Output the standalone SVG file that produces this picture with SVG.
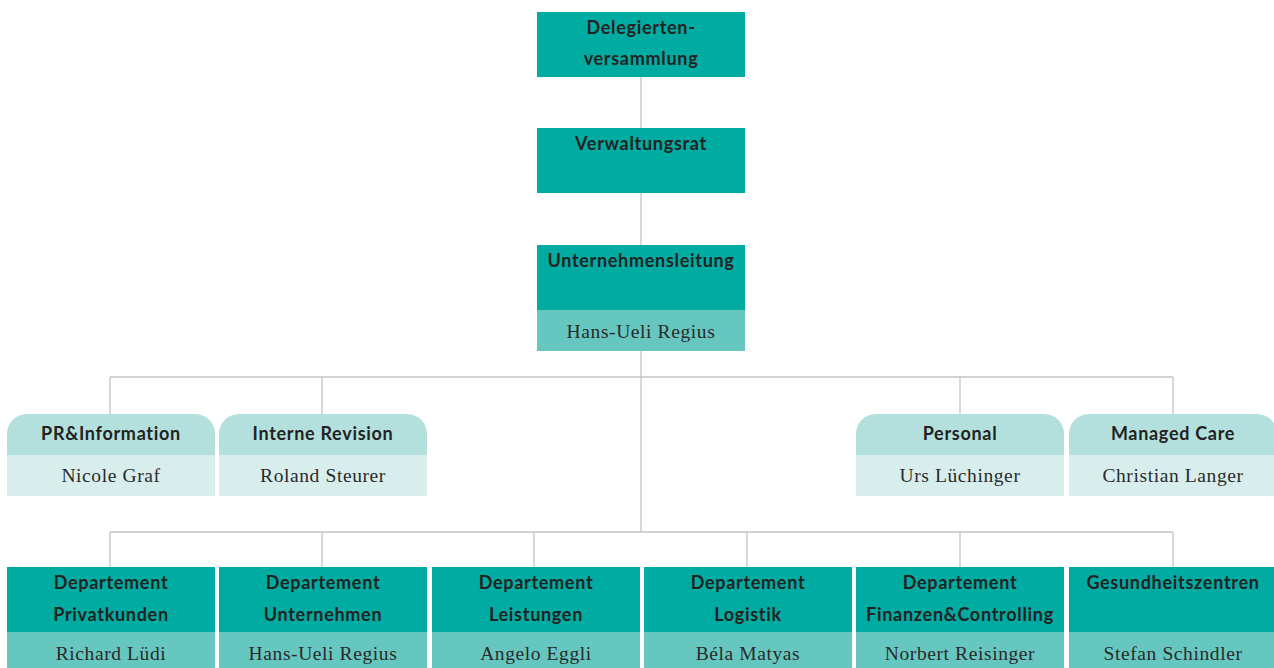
<svg xmlns="http://www.w3.org/2000/svg" width="1274" height="668" viewBox="0 0 1274 668">
<style>
.dk{fill:#00aba1}
.md{fill:#66c7c0}
.lh{fill:#b3e0dd}
.lb{fill:#d8eeec}
.h{font-family:"Lato","Liberation Sans",sans-serif;font-weight:bold;font-size:18px;fill:#222;text-anchor:middle;letter-spacing:0.7px}
.n{font-family:"Liberation Serif",serif;font-size:19.5px;fill:#2a2a2a;text-anchor:middle;letter-spacing:0.6px}
.c{stroke:#c4c4c4;stroke-width:1.3;fill:none}
</style>
<rect width="1274" height="668" fill="#fff"/>
<g id="connectors">
<path class="c" d="M641 77V128M641 193V245M641 351V532M110 377H1173M110 377V414M322 377V414M960 377V414M1173 377V414M110 532H1173M110 532V567M322 532V567M534 532V567M747 532V567M960 532V567M1173 532V567"/>
</g>
<g id="delegiertenversammlung">
<rect class="dk" x="537" y="12" width="208" height="65"/>
<text class="h" x="641" y="34">Delegierten-</text>
<text class="h" x="641" y="65">versammlung</text>
</g>
<g id="verwaltungsrat">
<rect class="dk" x="537" y="128" width="208" height="65"/>
<text class="h" x="641" y="150">Verwaltungsrat</text>
</g>
<g id="unternehmensleitung">
<rect class="dk" x="537" y="245" width="208" height="65"/>
<rect class="md" x="537" y="310" width="208" height="41"/>
<text class="h" x="641" y="267">Unternehmensleitung</text>
<text class="n" x="641" y="338">Hans-Ueli Regius</text>
</g>
<g id="pr-information">
<path class="lh" d="M7 455V434A20 20 0 0 1 27 414H195A20 20 0 0 1 215 434V455Z"/>
<rect class="lb" x="7" y="455" width="208" height="41"/>
<text class="h" x="111" y="440">PR&amp;Information</text>
<text class="n" x="111" y="482">Nicole Graf</text>
</g>
<g id="interne-revision">
<path class="lh" d="M219 455V434A20 20 0 0 1 239 414H407A20 20 0 0 1 427 434V455Z"/>
<rect class="lb" x="219" y="455" width="208" height="41"/>
<text class="h" x="323" y="440">Interne Revision</text>
<text class="n" x="323" y="482">Roland Steurer</text>
</g>
<g id="personal">
<path class="lh" d="M856 455V434A20 20 0 0 1 876 414H1044A20 20 0 0 1 1064 434V455Z"/>
<rect class="lb" x="856" y="455" width="208" height="41"/>
<text class="h" x="960" y="440">Personal</text>
<text class="n" x="960" y="482">Urs Lüchinger</text>
</g>
<g id="managed-care">
<path class="lh" d="M1069 455V434A20 20 0 0 1 1089 414H1257A20 20 0 0 1 1277 434V455Z"/>
<rect class="lb" x="1069" y="455" width="208" height="41"/>
<text class="h" x="1173" y="440">Managed Care</text>
<text class="n" x="1173" y="482">Christian Langer</text>
</g>
<g id="dep-privatkunden">
<rect class="dk" x="7" y="567" width="208" height="65"/>
<rect class="md" x="7" y="632" width="208" height="40"/>
<text class="h" x="111" y="589">Departement</text>
<text class="h" x="111" y="621">Privatkunden</text>
<text class="n" x="111" y="660">Richard Lüdi</text>
</g>
<g id="dep-unternehmen">
<rect class="dk" x="219" y="567" width="208" height="65"/>
<rect class="md" x="219" y="632" width="208" height="40"/>
<text class="h" x="323" y="589">Departement</text>
<text class="h" x="323" y="621">Unternehmen</text>
<text class="n" x="323" y="660">Hans-Ueli Regius</text>
</g>
<g id="dep-leistungen">
<rect class="dk" x="432" y="567" width="208" height="65"/>
<rect class="md" x="432" y="632" width="208" height="40"/>
<text class="h" x="536" y="589">Departement</text>
<text class="h" x="536" y="621">Leistungen</text>
<text class="n" x="536" y="660">Angelo Eggli</text>
</g>
<g id="dep-logistik">
<rect class="dk" x="644" y="567" width="208" height="65"/>
<rect class="md" x="644" y="632" width="208" height="40"/>
<text class="h" x="748" y="589">Departement</text>
<text class="h" x="748" y="621">Logistik</text>
<text class="n" x="748" y="660">Béla Matyas</text>
</g>
<g id="dep-finanzen">
<rect class="dk" x="856" y="567" width="208" height="65"/>
<rect class="md" x="856" y="632" width="208" height="40"/>
<text class="h" x="960" y="589">Departement</text>
<text class="h" x="960" y="621" letter-spacing="0">Finanzen&amp;Controlling</text>
<text class="n" x="960" y="660">Norbert Reisinger</text>
</g>
<g id="gesundheitszentren">
<rect class="dk" x="1069" y="567" width="208" height="65"/>
<rect class="md" x="1069" y="632" width="208" height="40"/>
<text class="h" x="1173" y="589">Gesundheitszentren</text>
<text class="n" x="1173" y="660">Stefan Schindler</text>
</g>
</svg>
